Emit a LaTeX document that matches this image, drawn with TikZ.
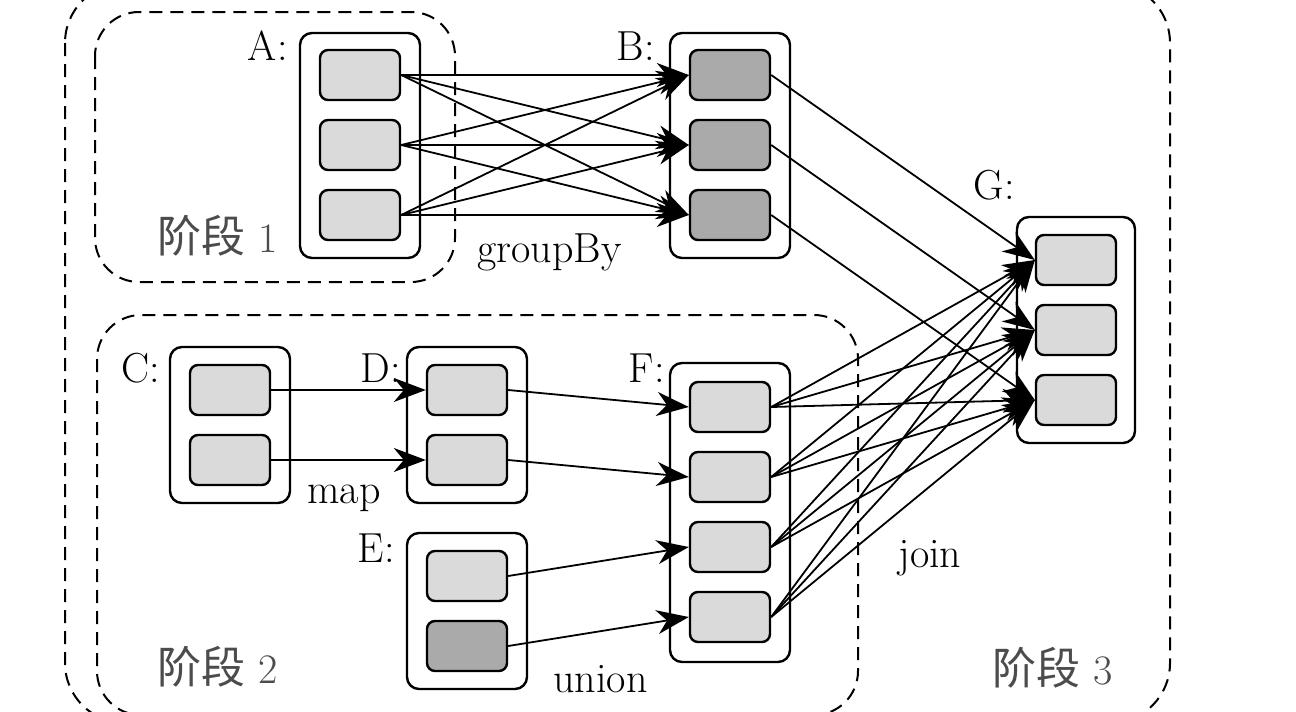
\documentclass[tikz,border=0pt]{standalone}
\usepackage{fontspec}
\newfontfamily\cjk{Noto Sans CJK SC}
\usetikzlibrary{arrows.meta}
\definecolor{partlight}{RGB}{218,218,218}
\definecolor{partdark}{RGB}{170,170,170}
\tikzset{
  part/.style={draw, line width=1.2pt, rounded corners=4pt, fill=partlight,
    minimum width=40pt, minimum height=25pt, inner sep=0pt},
  partdk/.style={part, fill=partdark},
  rdd/.style={draw, line width=1.2pt, rounded corners=6pt, fill=white,
    minimum width=60pt, inner sep=0pt},
  stage/.style={draw, dash pattern=on 6.5pt off 4pt, line width=1pt,
    rounded corners=22pt},
  conn/.style={line width=0.9pt, -{Stealth[length=16pt,width=12pt,inset=5pt]}},
  lbl/.style={font=\fontsize{21}{24}\selectfont, inner sep=0pt},
  stagelbl/.style={lbl, text=black!70},
}
\begin{document}
\begin{tikzpicture}[x=0.5pt,y=-0.5pt]
\useasboundingbox (0,0) rectangle (1296,712);
\clip (0,0) rectangle (1296,712);
% stages
\draw[stage, rounded corners=30pt] (65,-17) rectangle (1170,723);
\draw[stage] (95,12) rectangle (455,282);
\draw[stage] (97,315) rectangle (858,715);
% datasets
\node[rdd, minimum height=112.5pt] (A) at (360,145.5) {};
\node[rdd, minimum height=112.5pt] (B) at (730,145.5) {};
\node[rdd, minimum height=113pt, minimum width=59pt] (G) at (1076,330) {};
\node[rdd, minimum height=78pt] (C) at (230,425) {};
\node[rdd, minimum height=78pt] (D) at (467,425) {};
\node[rdd, minimum height=78pt] (E) at (467,611) {};
\node[rdd, minimum height=149.5pt] (F) at (730,512.5) {};
% partitions
\foreach \i/\y in {1/75,2/145,3/215} {
  \node[part] (A\i) at (360,\y) {};
  \node[partdk] (B\i) at (730,\y) {};
}
\foreach \i/\y in {1/260,2/330,3/400}
  \node[part] (G\i) at (1076,\y) {};
\foreach \i/\y in {1/390,2/460} {
  \node[part] (C\i) at (230,\y) {};
  \node[part] (D\i) at (467,\y) {};
}
\node[part] (E1) at (467,576) {};
\node[partdk] (E2) at (467,646) {};
\foreach \i/\y in {1/407,2/477,3/547,4/617}
  \node[part] (F\i) at (730,\y) {};
% dependencies
\foreach \i in {1,2,3}
  \foreach \j in {1,2,3}
    \draw[conn] (A\i.east) -- (B\j.west);
\foreach \i in {1,2,3}
  \draw[conn] (B\i.east) -- (G\i.west);
\foreach \i in {1,2,3,4}
  \foreach \j in {1,2,3}
    \draw[conn] (F\i.east) -- (G\j.west);
\foreach \i in {1,2} {
  \draw[conn] (C\i.east) -- (D\i.west);
  \draw[conn] (D\i.east) -- (F\i.west);
}
\draw[conn] (E1.east) -- (F3.west);
\draw[conn] (E2.east) -- (F4.west);
% labels
\node[lbl, anchor=base east] (labA) at (288,60) {A:};
\node[lbl, anchor=base east] (labB) at (655,60) {B:};
\node[lbl, anchor=base east] (labG) at (1015,199) {G:};
\node[lbl, anchor=base east] (labC) at (160,382) {C:};
\node[lbl, anchor=base east] (labD) at (401,382) {D:};
\node[lbl, anchor=base east] (labE) at (395,562) {E:};
\node[lbl, anchor=base east] (labF) at (665,382) {F:};
\node[lbl, anchor=base west] (opgroup) at (477,262) {groupBy};
\node[lbl, anchor=base west] (opmap) at (307,503) {map};
\node[lbl, anchor=base west] (opunion) at (553,692) {union};
\node[lbl, anchor=base west] (opjoin) at (898,567) {join};
\node[stagelbl, anchor=base west] (st1) at (157,252) {{\cjk\fontsize{22}{24}\selectfont 阶段} 1};
\node[stagelbl, anchor=base west] (st2) at (157,683) {{\cjk\fontsize{22}{24}\selectfont 阶段} 2};
\node[stagelbl, anchor=base west] (st3) at (992,684) {{\cjk\fontsize{22}{24}\selectfont 阶段} 3};
\end{tikzpicture}
\end{document}
